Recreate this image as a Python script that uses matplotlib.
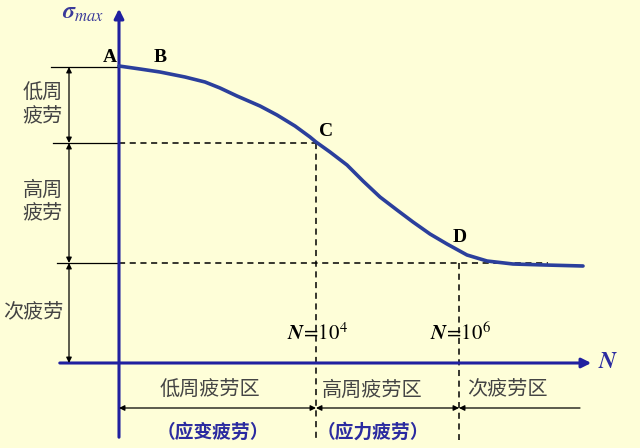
import matplotlib
matplotlib.use("Agg")
import matplotlib.pyplot as plt

plt.rcParams['font.family'] = ['Noto Sans CJK SC', 'DejaVu Sans']
plt.rcParams['mathtext.fontset'] = 'stix'

# S-N schematic curve (read in image coordinates, y downward)
curve_x = [119, 140, 160, 185, 205, 220, 237, 260, 277, 295, 310, 316, 330, 347, 363, 380, 397, 413, 430, 447, 467, 487, 513, 545, 583]
curve_y = [66, 69, 72, 77, 82, 88, 96, 106, 115, 126, 137, 142, 152, 165, 181, 197, 210, 222, 234, 244, 255, 261, 264, 265, 266]

# levels
y_A, y_C, y_D, y_axis = 67, 143, 263, 363
x_axis, x_C, x_D = 119, 316, 459

left_labels = ["低周\n疲劳", "高周\n疲劳", "次疲劳"]
left_label_y = [105, 202, 313]
zone_labels = ["低周疲劳区", "高周疲劳区", "次疲劳区"]
zone_x = [210, 372, 507]
sub_labels = ["（应变疲劳）", "（应力疲劳）"]
sub_x = [213, 373]
point_labels = ["A", "B", "C", "D"]
point_pos = [(110, 57), (160, 57), (326, 131), (460, 238)]
N_labels = [r"$\boldsymbol{N}\!=\!10^{4}$", r"$\boldsymbol{N}\!=\!10^{6}$"]

bg = '#FEFED8'
fig = plt.figure(figsize=(6.4, 4.48), dpi=100, facecolor=bg)
ax = fig.add_axes([0, 0, 1, 1])
ax.set_facecolor(bg)
ax.set_xlim(0, 640)
ax.set_ylim(448, 0)
ax.axis('off')

axis_col = '#2020A0'
curve_col = '#2B3F9C'
txt_col = '#444444'

# axes with arrows
ax.annotate('', xy=(x_axis, 6), xytext=(x_axis, 440),
            arrowprops=dict(arrowstyle='-|>', color=axis_col, lw=2.2, mutation_scale=14))
ax.annotate('', xy=(594, y_axis), xytext=(57, y_axis),
            arrowprops=dict(arrowstyle='-|>', color=axis_col, lw=2.2, mutation_scale=14))

# curve
ax.plot(curve_x, curve_y, color=curve_col, lw=2.6, solid_capstyle='round', solid_joinstyle='round', zorder=3)

# dashed guides
dash = dict(color='black', lw=1.1, ls=(0, (4, 3)))
ax.plot([x_axis, x_C], [y_C, y_C], **dash)
ax.plot([x_C, x_C], [y_C, 440], **dash)
ax.plot([x_axis, 548], [y_D, y_D], **dash)
ax.plot([x_D, x_D], [y_D, 440], **dash)

# left thin guide lines
for yy, x0 in zip([y_A, y_C, y_D], [51, 53, 57]):
    ax.plot([x0, x_axis], [yy, yy], color='black', lw=0.9)

# vertical dimension arrows
arr = dict(arrowstyle='<|-|>', color='black', lw=0.9, mutation_scale=8, shrinkA=0, shrinkB=0)
for y0, y1 in [(y_A, y_C), (y_C, y_D), (y_D, y_axis)]:
    ax.annotate('', xy=(69, y0), xytext=(69, y1), arrowprops=arr)

# horizontal dimension arrows
ya = 408
ax.annotate('', xy=(x_axis, ya), xytext=(x_C, ya), arrowprops=arr)
ax.annotate('', xy=(x_C, ya), xytext=(x_D, ya), arrowprops=arr)
ax.annotate('', xy=(x_D, ya), xytext=(580, ya),
            arrowprops=dict(arrowstyle='-|>', color='black', lw=0.9, mutation_scale=8, shrinkA=0, shrinkB=0))

# left labels
for t, yy in zip(left_labels, left_label_y):
    ax.text(43 if '\n' in t else 33, yy, t, ha='center', va='center', fontsize=14.5,
            color=txt_col, linespacing=1.2)

# zone labels
for t, xx in zip(zone_labels, zone_x):
    ax.text(xx, 390, t, ha='center', va='center', fontsize=14.5, color=txt_col)
for t, xx in zip(sub_labels, sub_x):
    ax.text(xx, 432, t, ha='center', va='center', fontsize=13.5, color='#2B2BA0', fontweight='bold')

# point labels
for t, (xx, yy) in zip(point_labels, point_pos):
    ax.text(xx, yy, t, ha='center', va='center', fontsize=14, fontweight='bold',
            family='Liberation Serif', color='black')

# N labels
for t, xx in zip(N_labels, [x_C, x_D]):
    ax.text(xx + 2, 334, t, ha='center', va='center', fontsize=15, color='black')

# axis titles
ax.text(62, 13, r"$\boldsymbol{\sigma}_{max}$", ha='left', va='center', fontsize=17, color='#3A3A9A')
ax.text(608, 362, r"$\boldsymbol{N}$", ha='center', va='center', fontsize=17, color='#2B2BA0')

fig.savefig('out.png', dpi=100, facecolor=bg)
